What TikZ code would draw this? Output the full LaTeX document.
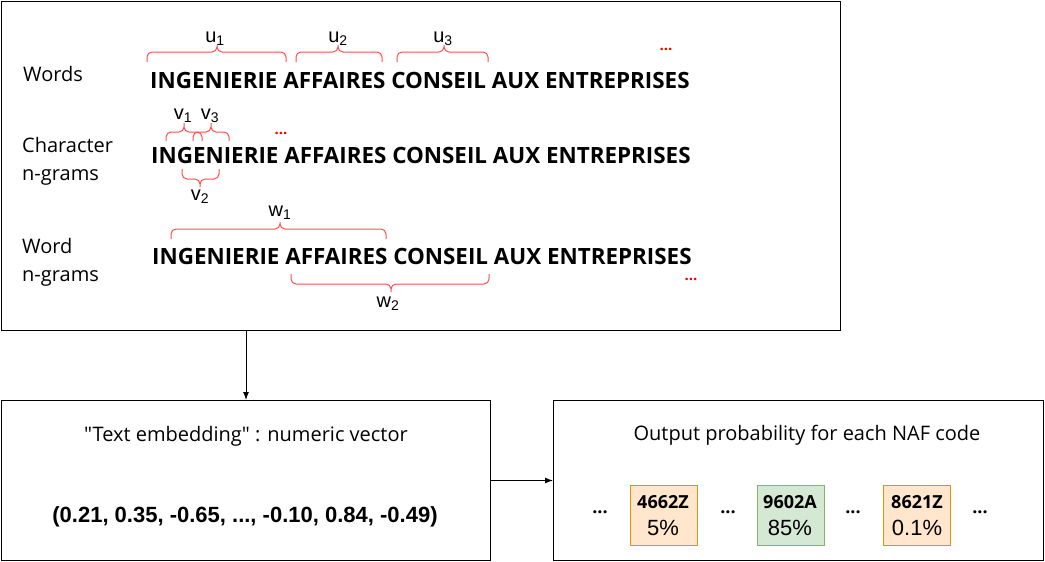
\documentclass[tikz,border=0pt]{standalone}
\usepackage{fontspec}
\setmainfont{Open Sans}
\newfontfamily\plainf{Open Sans}
\newfontfamily\arialf{Liberation Sans}
\usepackage{xcolor}
\usetikzlibrary{positioning}
\usetikzlibrary{calc}
\usetikzlibrary{arrows.meta}
\definecolor{bracered}{HTML}{FF4D4D}
\definecolor{orfill}{HTML}{FFE6CC}
\definecolor{ordraw}{HTML}{D79B00}
\definecolor{grfill}{HTML}{D5E8D4}
\definecolor{grdraw}{HTML}{82B366}
\tikzset{
  panel/.style={draw,line width=1pt,anchor=north west,inner sep=0},
  sent/.style={anchor=west,inner sep=0,font=\fontsize{22.4}{22.4}\selectfont\bfseries},
  rowlab/.style={anchor=west,inner sep=0,align=left,font=\fontsize{20}{28}\selectfont},
  brc/.style={draw=bracered,line width=1pt,rounded corners=5pt},
  sym/.style={anchor=base,inner sep=0,font=\arialf\fontsize{20}{20}\selectfont},
  reddots/.style={inner sep=0,text=red,font=\fontsize{15}{15}\selectfont\bfseries},
  dots/.style={inner sep=0,font=\fontsize{18}{18}\selectfont\bfseries},
  codebox/.style={draw,line width=1pt,minimum width=67pt,minimum height=60pt,anchor=north west,inner sep=0},
  codetxt/.style={inner sep=0,font=\fontsize{18}{18}\selectfont\bfseries},
  pct/.style={inner sep=0,anchor=base,font=\arialf\fontsize{22}{22}\selectfont},
  title/.style={inner sep=0,font=\plainf\fontsize{20}{20}\selectfont},
  arr/.style={line width=1pt,-{Latex[length=8pt,width=6pt]}}
}
\begin{document}
\begin{tikzpicture}[x=1pt,y=-1pt]
\useasboundingbox (0,0) rectangle (1045,562);
\node[panel,minimum width=839pt,minimum height=329pt] (ngram) at (1,1) {};
\node[panel,minimum width=489pt,minimum height=160pt] (emb) at (1,400) {};
\node[panel,minimum width=490pt,minimum height=160pt] (out) at (553,400) {};
\draw[arr] (ngram.south -| emb.north) -- (emb.north);
\draw[arr] (emb.east) -- (out.west);

\node[rowlab] (wl) at (23,74) {Words};
\node[rowlab] (cl) at (22,161) {Character\\n-grams};
\node[rowlab] (nl) at (22,262) {Word\\n-grams};
\node[sent] (s1) at (150,80) {INGENIERIE AFFAIRES CONSEIL AUX ENTREPRISES};
\node[sent] (s2) at (151,155) {INGENIERIE AFFAIRES CONSEIL AUX ENTREPRISES};
\node[sent] (s3) at (152,256) {INGENIERIE AFFAIRES CONSEIL AUX ENTREPRISES};

\draw[brc] (217,45) -- (217,52) -| (147,62) (217,45) -- (217,52) -| (286,62);
\draw[brc] (338,45) -- (338,52) -| (296,62) (338,45) -- (338,52) -| (382,62);
\draw[brc] (444,45) -- (444,52) -| (397,62) (444,45) -- (444,52) -| (488,62);
\node[sym] (u1) at (215,42) {u\textsubscript{1}};
\node[sym] (u2) at (338,42) {u\textsubscript{2}};
\node[sym] (u3) at (443,42) {u\textsubscript{3}};
\node[reddots] (ud) at (666,49) {...};

\draw[brc] (184,123) -- (184,132) -| (166,141) (184,123) -- (184,132) -| (202,141);
\draw[brc] (211,123) -- (211,132) -| (193,141) (211,123) -- (211,132) -| (229,141);
\draw[brc] (200,187) -- (200,179) -| (182,169) (200,187) -- (200,179) -| (219,169);
\node[sym] (v1) at (183,119) {v\textsubscript{1}};
\node[sym] (v3) at (210,119) {v\textsubscript{3}};
\node[sym] (v2) at (200,200) {v\textsubscript{2}};
\node[reddots] (vd) at (281,133) {...};

\draw[brc] (280,222) -- (280,229) -| (171,239) (280,222) -- (280,229) -| (386,239);
\draw[brc] (391,292) -- (391,284) -| (291,274) (391,292) -- (391,284) -| (489,274);
\node[sym] (w1) at (280,216) {w\textsubscript{1}};
\node[sym] (w2) at (388,307) {w\textsubscript{2}};
\node[reddots] (wd) at (691,279) {...};

\node[title] (embt) at (246,436) {"Text embedding" : numeric vector};
\node[inner sep=0,font=\arialf\fontsize{22}{22}\selectfont\bfseries] (vec) at (245,517) {(0.21, 0.35, -0.65, ..., -0.10, 0.84, -0.49)};

\node[title] (outt) at (807,435) {Output probability for each NAF code};
\node[codebox,fill=orfill,draw=ordraw] (c1) at (630,485) {};
\node[codebox,fill=grfill,draw=grdraw] (c2) at (757,485) {};
\node[codebox,fill=orfill,draw=ordraw] (c3) at (883,485) {};
\node[codetxt] (c1k) at (663,502) {4662Z};
\node[codetxt] (c2k) at (790,502) {9602A};
\node[codetxt] (c3k) at (917,502) {8621Z};
\node[pct] (c1p) at (663,535) {5\%};
\node[pct] (c2p) at (790,535) {85\%};
\node[pct] (c3p) at (917,535) {0.1\%};
\node[dots] (d1) at (600,512) {...};
\node[dots] (d2) at (728,512) {...};
\node[dots] (d3) at (853,512) {...};
\node[dots] (d4) at (980,512) {...};
\end{tikzpicture}
\end{document}
